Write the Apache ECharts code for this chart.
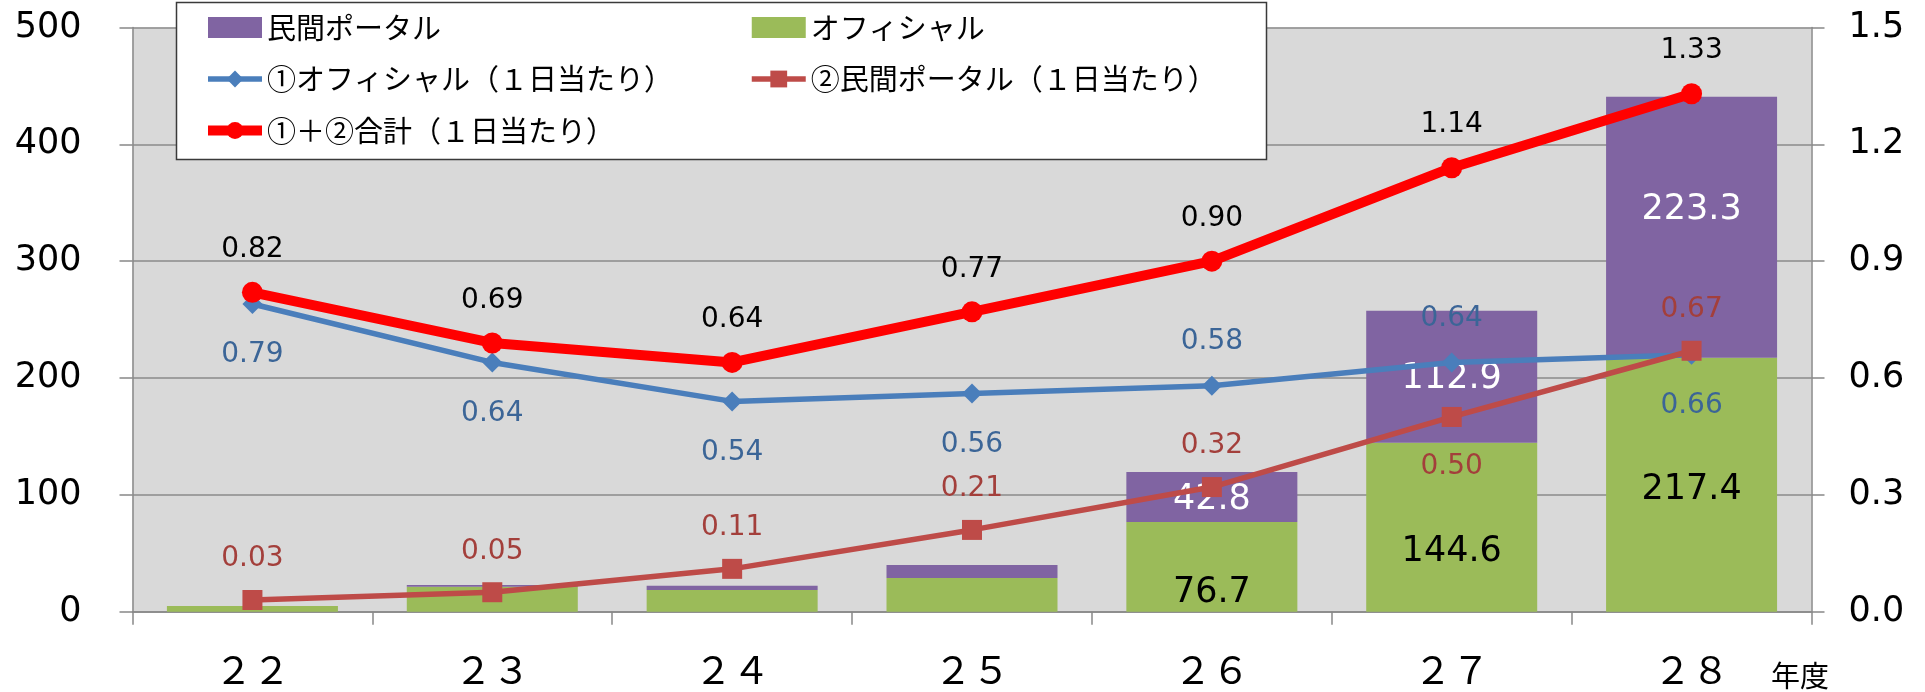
<!DOCTYPE html>
<html>
<head>
<meta charset="utf-8">
<script src="https://cdn.jsdelivr.net/npm/echarts@6/dist/echarts.min.js"></script>
<style>
html,body{margin:0;padding:0;background:#fff;}
#chart{width:1925px;height:692px;}
</style>
</head>
<body>
<div id="chart"></div>
<script>
// ---- data ----
var categories = ['２２', '２３', '２４', '２５', '２６', '２７', '２８'];
var privateTotal = [0, 1.5, 3.7, 11.1, 42.8, 112.9, 223.3];      // 民間ポータル
var officialTotal = [4.9, 21.4, 18.6, 28.9, 76.7, 144.6, 217.4];  // オフィシャル
var officialPerDay = [0.79, 0.64, 0.54, 0.56, 0.58, 0.64, 0.66];  // ①
var privatePerDay = [0.03, 0.05, 0.11, 0.21, 0.32, 0.50, 0.67];   // ②
var sumPerDay = [0.82, 0.69, 0.64, 0.77, 0.90, 1.14, 1.33];       // ①+②
var leftTicks = {min: 0, max: 500, interval: 100};
var rightTicks = {min: 0, max: 1.5, interval: 0.3};

// ---- label placement (style only) ----
var barLabelShown = [false, false, false, false, true, true, true];
var officialLabelShift = [0, 0, 0, 0, 26, 25, 5];
var privateLabelShift = [0, 0, 0, 0, 3, 2, -17];
var officialPerDayLabelPos = ['bottom', 'bottom', 'bottom', 'bottom', 'top', 'top', 'bottom'];
var privatePerDayLabelPos = ['top', 'top', 'top', 'top', 'top', 'bottom', 'top'];

var NAME_PRIV = '民間ポータル';
var NAME_OFF = 'オフィシャル';
var NAME_OFF_DAY = '①オフィシャル（１日当たり）';
var NAME_PRIV_DAY = '②民間ポータル（１日当たり）';
var NAME_SUM = '①＋②合計（１日当たり）';

var AX = '#888888';
var NUM_FONT = 'DejaVu Sans';
var JP_FONT = 'Noto Sans CJK JP';
var C_BLUE = '#4A7EBB', C_PRIV = '#BE4B48', C_SUM = '#FF0000';

function barItems(vals, shifts) {
  return vals.map(function (v, i) {
    return {value: v, label: {show: barLabelShown[i], offset: [0, shifts[i]]}};
  });
}
function lineItems(vals, positions, below, above) {
  return vals.map(function (v, i) {
    return {value: v, label: {position: positions[i], distance: positions[i] === 'bottom' ? below : above}};
  });
}

var chart = echarts.init(document.getElementById('chart'), null, {renderer: 'canvas'});
var legendText = {fontFamily: JP_FONT, fontSize: 29, color: '#000'};
var option = {
  animation: false,
  backgroundColor: '#ffffff',
  grid: {left: 132.5, right: 113.5, top: 27.5, bottom: 80.3, show: true, backgroundColor: '#D9D9D9', borderWidth: 0},
  legend: [
    {
      orient: 'vertical', left: 203, top: 13, itemWidth: 54, itemHeight: 21, itemGap: 22.5, z: 4,
      textStyle: legendText, padding: 0,
      data: [
        {name: NAME_PRIV, icon: 'rect'},
        {name: NAME_OFF_DAY, lineStyle: {width: 5.5, color: C_BLUE}},
        {name: NAME_SUM, lineStyle: {width: 10, color: C_SUM}}
      ]
    },
    {
      orient: 'vertical', left: 749, top: 13, itemWidth: 54, itemHeight: 21, itemGap: 22.5, z: 4,
      textStyle: legendText, padding: 0,
      data: [
        {name: NAME_OFF, icon: 'rect'},
        {name: NAME_PRIV_DAY, lineStyle: {width: 5.5, color: C_PRIV}}
      ]
    }
  ],
  graphic: {
    elements: [
      {type: 'rect', z: 3, shape: {x: 176.5, y: 2.5, width: 1090, height: 157}, style: {fill: '#ffffff', stroke: '#3a3a3a', lineWidth: 1.5}},
      {type: 'text', z: 5, left: 1771, top: 661, style: {text: '年度', fill: '#000', font: '29px "Noto Sans CJK JP"'}}
    ]
  },
  xAxis: {
    type: 'category',
    data: categories,
    boundaryGap: true,
    axisLine: {show: true, lineStyle: {color: AX, width: 1.5}},
    axisTick: {show: true, length: 13, alignWithLabel: false, lineStyle: {color: AX, width: 1.5}},
    axisLabel: {fontFamily: JP_FONT, fontSize: 38, color: '#000', margin: 39},
    splitLine: {show: false}
  },
  yAxis: [
    {
      type: 'value', min: leftTicks.min, max: leftTicks.max, interval: leftTicks.interval,
      axisLine: {show: true, lineStyle: {color: AX, width: 1.5}},
      axisTick: {show: true, length: 13, lineStyle: {color: AX, width: 1.5}},
      axisLabel: {fontFamily: NUM_FONT, fontSize: 35, color: '#000', margin: 51},
      splitLine: {show: true, lineStyle: {color: '#8a8a8a', width: 1.5}}
    },
    {
      type: 'value', min: rightTicks.min, max: rightTicks.max, interval: rightTicks.interval,
      position: 'right',
      axisLine: {show: true, lineStyle: {color: AX, width: 1.5}},
      axisTick: {show: true, length: 13, lineStyle: {color: AX, width: 1.5}},
      axisLabel: {fontFamily: NUM_FONT, fontSize: 35, color: '#000', margin: 37,
        formatter: function (v) { return v.toFixed(1); }},
      splitLine: {show: false}
    }
  ],
  series: [
    {
      name: NAME_OFF, type: 'bar', stack: 'total', yAxisIndex: 0, barWidth: 171,
      itemStyle: {color: '#9BBB59'},
      label: {show: true, position: 'inside', color: '#000', fontFamily: NUM_FONT, fontSize: 35},
      data: barItems(officialTotal, officialLabelShift)
    },
    {
      name: NAME_PRIV, type: 'bar', stack: 'total', yAxisIndex: 0, barWidth: 171,
      itemStyle: {color: '#8064A2'},
      label: {show: true, position: 'inside', color: '#fff', fontFamily: NUM_FONT, fontSize: 35},
      data: barItems(privateTotal, privateLabelShift)
    },
    {
      name: NAME_OFF_DAY, type: 'line', yAxisIndex: 1, z: 3,
      symbol: 'diamond', symbolSize: 20,
      lineStyle: {color: C_BLUE, width: 5.5},
      itemStyle: {color: C_BLUE},
      label: {show: true, color: '#3B6597', fontFamily: NUM_FONT, fontSize: 28,
        formatter: function (p) { return p.value.toFixed(2); }},
      data: lineItems(officialPerDay, officialPerDayLabelPos, 27, 20)
    },
    {
      name: NAME_PRIV_DAY, type: 'line', yAxisIndex: 1, z: 4,
      symbol: 'rect', symbolSize: 20,
      lineStyle: {color: C_PRIV, width: 5.5},
      itemStyle: {color: C_PRIV},
      label: {show: true, color: '#A33F3B', fontFamily: NUM_FONT, fontSize: 28,
        formatter: function (p) { return p.value.toFixed(2); }},
      data: lineItems(privatePerDay, privatePerDayLabelPos, 26, 17)
    },
    {
      name: NAME_SUM, type: 'line', yAxisIndex: 1, z: 5,
      symbol: 'circle', symbolSize: 21,
      lineStyle: {color: C_SUM, width: 10},
      itemStyle: {color: C_SUM},
      label: {show: true, position: 'top', distance: 18, color: '#000', fontFamily: NUM_FONT, fontSize: 28,
        formatter: function (p) { return p.value.toFixed(2); }},
      data: sumPerDay
    }
  ]
};
chart.setOption(option);
</script>
</body>
</html>
